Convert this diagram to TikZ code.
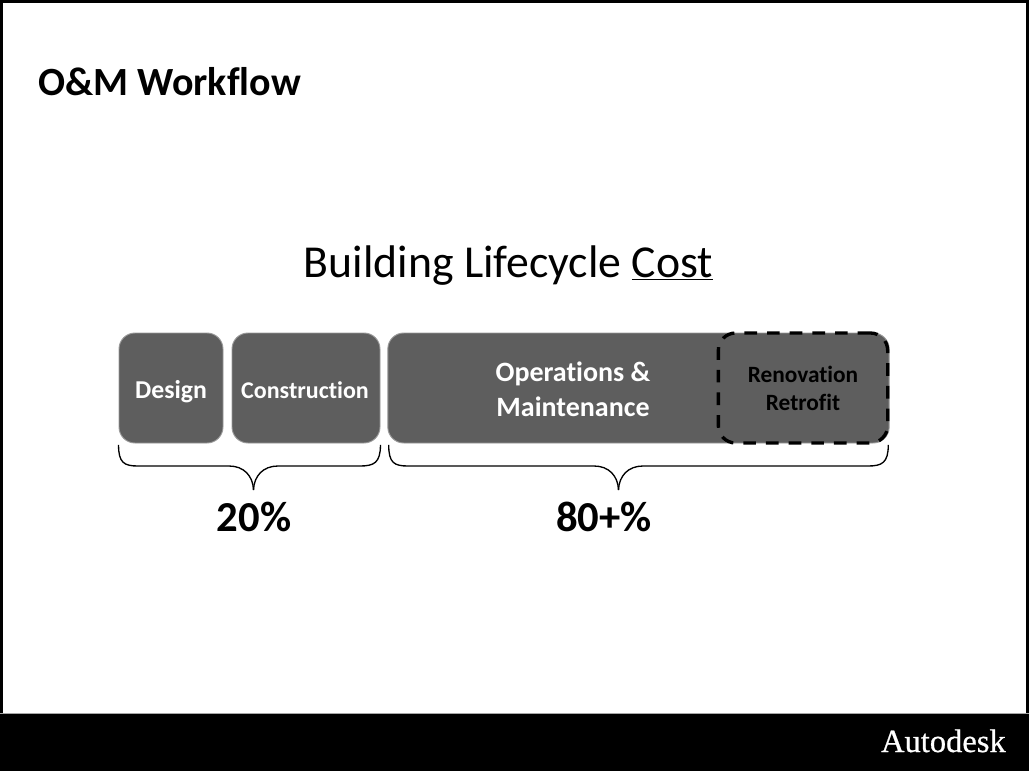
\documentclass[tikz,border=0pt]{standalone}
\usepackage{fontspec}
\setmainfont[Ligatures=NoCommon]{Carlito}
\newfontfamily\logofont[FakeBold=0.6]{Liberation Serif}
\definecolor{barfill}{HTML}{5E5E5E}
\definecolor{baredge}{HTML}{999999}
\tikzset{
  x=0.75pt,y=-0.75pt,
  barbox/.style={rounded corners=12pt,fill=barfill,draw=baredge,line width=0.7pt,inner sep=0pt,minimum height=82.5pt},
  bartext/.style={text=white,align=center,inner sep=0pt,anchor=base},
  dashbox/.style={rounded corners=13pt,draw=black,line width=2.5pt,dash pattern=on 9.5pt off 7.5pt,inner sep=0pt,minimum height=82.5pt},
  bracecurve/.style={draw=black,line width=1pt},
  pct/.style={font=\fontsize{32}{36}\selectfont\bfseries,inner sep=0pt,anchor=base}
}
\begin{document}
\begin{tikzpicture}
\useasboundingbox (0,0) rectangle (1029,771);
\fill[white] (0,0) rectangle (1029,771);
\draw[black,line width=2.2pt] (1.5,771) -- (1.5,1.5) -- (1027.5,1.5) -- (1027.5,771);
\fill[black] (0,713) rectangle (1029,771);
\draw[gray!70,line width=0.6pt] (0,713) -- (1029,713);
\node[anchor=base west,inner sep=0pt,font=\fontsize{30}{34}\selectfont\bfseries] (title) at (38,95) {O\&M Workflow};
\node[anchor=base,inner sep=0pt,font=\fontsize{34.3}{38}\selectfont] (head) at (508.5,277) {Building Lifecycle \underline{Cost}};
\node[barbox,minimum width=78pt] (design) at (171,388) {};
\node[barbox,minimum width=111pt] (constr) at (306,388) {};
\node[barbox,minimum width=376pt] (om) at (638.5,388) {};
\node[dashbox,minimum width=127pt] (reno) at (803,388) {};
\node[bartext,font=\fontsize{19.3}{24}\selectfont\bfseries] (designt) at (171,398) {Design};
\node[bartext,font=\fontsize{18}{24}\selectfont\bfseries] (constrt) at (305,398) {Construction};
\node[bartext,font=\fontsize{21}{26.3}\selectfont\bfseries] (omta) at (573,381) {Operations \&};
\node[bartext,font=\fontsize{21}{26.3}\selectfont\bfseries] (omtb) at (573,416) {Maintenance};
\node[bartext,text=black,font=\fontsize{17.5}{21}\selectfont\bfseries] (renota) at (803,382) {Renovation};
\node[bartext,text=black,font=\fontsize{17.5}{21}\selectfont\bfseries] (renotb) at (803,410) {Retrofit};
\coordinate (b1) at (design.south west);
\coordinate (b2) at (constr.south east);
\coordinate (b3) at (om.south west);
\coordinate (b4) at (om.south east);
\draw[bracecurve] ([yshift=-1pt]b1) .. controls +(0,18) and +(-14,0) .. (138,466) -- (229,466) .. controls (244,466) and (253,476) .. (253.5,490);
\draw[bracecurve] (253.5,490) .. controls (254,476) and (263,466) .. (278,466) -- (360,466) .. controls +(14,0) and +(0,18) .. ([yshift=-1pt]b2);
\draw[bracecurve] ([yshift=-1pt,xshift=1pt]b3) .. controls +(0,18) and +(-14,0) .. (408,466) -- (594,466) .. controls (609,466) and (618,476) .. (618.5,490);
\draw[bracecurve] (618.5,490) .. controls (619,476) and (628,466) .. (643,466) -- (868,466) .. controls +(14,0) and +(0,18) .. ([yshift=-1pt,xshift=-1pt]b4);
\node[pct] (p20) at (254,531) {20\%};
\node[pct] (p80) at (604,531) {80+\%};
\node[anchor=base east,inner sep=0pt,text=white,font=\logofont\fontsize{24.4}{28}\selectfont] (logo) at (1006,752) {Autodesk};
\end{tikzpicture}
\end{document}
